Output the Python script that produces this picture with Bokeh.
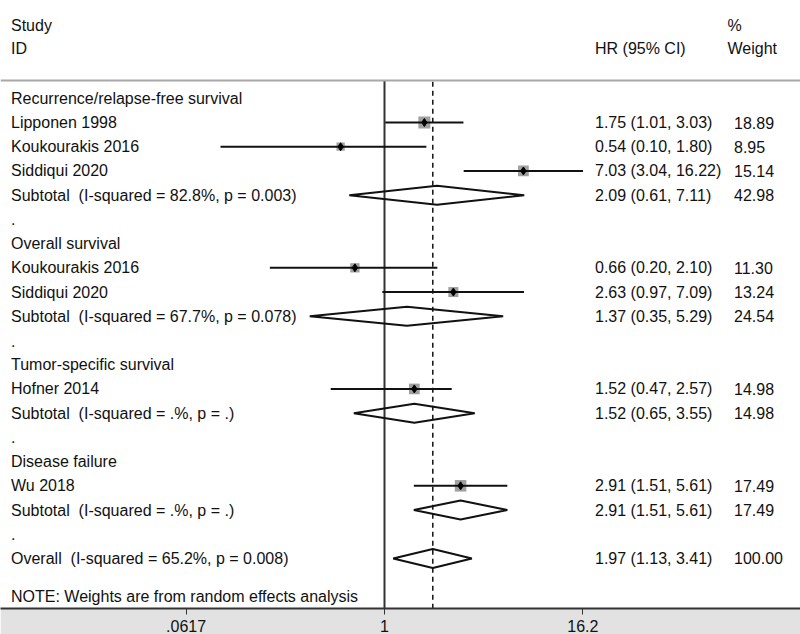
import numpy as np
from bokeh.plotting import figure
from bokeh.models import ColumnDataSource, Range1d, FixedTicker, Span
from bokeh.core.properties import value
from bokeh.embed import file_html
from bokeh.resources import INLINE

# ---------------- data ----------------
group_names = ["Recurrence/relapse-free survival", "Overall survival",
               "Tumor-specific survival", "Disease failure"]
group_rows = [0, 6, 11, 15]

study_names = ["Lipponen 1998", "Koukourakis 2016", "Siddiqui 2020",
               "Koukourakis 2016", "Siddiqui 2020", "Hofner 2014", "Wu 2018"]
study_hr = [1.75, 0.54, 7.03, 0.66, 2.63, 1.52, 2.91]
study_lo = [1.01, 0.10, 3.04, 0.20, 0.97, 0.47, 1.51]
study_hi = [3.03, 1.80, 16.22, 2.10, 7.09, 2.57, 5.61]
study_wt = [18.89, 8.95, 15.14, 11.30, 13.24, 14.98, 17.49]
study_rows = [1, 2, 3, 7, 8, 12, 16]

pooled_names = ["Subtotal \u00a0(I-squared = 82.8%, p = 0.003)",
                "Subtotal \u00a0(I-squared = 67.7%, p = 0.078)",
                "Subtotal \u00a0(I-squared = .%, p = .)",
                "Subtotal \u00a0(I-squared = .%, p = .)",
                "Overall \u00a0(I-squared = 65.2%, p = 0.008)"]
pooled_hr = [2.09, 1.37, 1.52, 2.91, 1.97]
pooled_lo = [0.61, 0.35, 0.65, 1.51, 1.13]
pooled_hi = [7.11, 5.29, 3.55, 5.61, 3.41]
pooled_wt = [42.98, 24.54, 14.98, 17.49, 100.00]
pooled_rows = [4, 9, 13, 17, 19]

spacer_rows = [5, 10, 14, 18]
note_text = "NOTE: Weights are from random effects analysis"
note_row = 20.55

tick_values = [0.0617, 1.0, 16.2]
tick_labels = [".0617", "1", "16.2"]
overall_hr = 1.97

# ---------------- layout ----------------
FONT = value("Liberation Sans")
FS = "16px"
TXT = "#111111"
ROW0_PX, ROW_PX = 97.8, 24.22          # image pixel of row 0, pixel per row
NULL_PX, DEC_PX = 384.0, 164.0         # image pixel of HR=1, pixel per decade
AXIS_H = 26                            # height of the x axis panel
W, H = 800, 634


def px_to_x(px):
    return (px - NULL_PX) / DEC_PX


def px_to_row(py):
    return (py - ROW0_PX) / ROW_PX


x_left, x_hr, x_wt_head, x_wt = px_to_x(10.5), px_to_x(594.5), px_to_x(727), px_to_x(733.5)
sep_row = px_to_row(80)
bottom_row = px_to_row(H - AXIS_H)

p = figure(width=W, height=H, output_backend="svg", toolbar_location=None,
           x_range=Range1d(px_to_x(0), px_to_x(W)),
           y_range=Range1d(bottom_row, px_to_row(0)),
           y_axis_location=None, min_border=0, outline_line_color=None,
           background_fill_color="white", border_fill_color="#e2e2e2")
p.grid.visible = False

# header separator
p.add_layout(Span(location=sep_row, dimension="width", line_color="#a8a8a8", line_width=2))

# null line
p.segment(x0=[0.0], y0=[sep_row], x1=[0.0], y1=[bottom_row + 1], line_color="#333333", line_width=2)
# overall effect dashed line
lo_ov = np.log10(overall_hr)
p.segment(x0=[lo_ov], y0=[sep_row + 0.05], x1=[lo_ov], y1=[bottom_row + 1],
          line_color="#111111", line_width=1.5, line_dash="5 4")

# study CIs, boxes and points
sd = ColumnDataSource(dict(
    x=np.log10(study_hr), lo=np.log10(study_lo), hi=np.log10(study_hi),
    y=study_rows, size=2.76 * np.sqrt(study_wt)))
p.scatter(x="x", y="y", size="size", marker="square", source=sd,
          fill_color="#a0a0a0", line_color=None)
p.segment(x0="lo", y0="y", x1="hi", y1="y", source=sd, line_color="#111111", line_width=2)
p.scatter(x="x", y="y", size=8, marker="diamond", source=sd,
          fill_color="#000000", line_color="#000000")

# pooled diamonds
hh = 9.5 / ROW_PX
xs, ys = [], []
for e, l, h, r in zip(pooled_hr, pooled_lo, pooled_hi, pooled_rows):
    xs.append([np.log10(l), np.log10(e), np.log10(h), np.log10(e)])
    ys.append([r, r - hh, r, r + hh])
p.patches(xs=xs, ys=ys, fill_alpha=0, line_color="#111111", line_width=2)

# texts
def txt(xv, rows, texts):
    p.text(x=[xv] * len(rows), y=rows, text=texts, text_font=FONT, text_font_size=FS,
           text_baseline="middle", text_align="left", text_color=TXT)

txt(x_left, [-3.0, -2.05], ["Study", "ID"])
txt(x_hr, [-2.05], ["HR (95% CI)"])
txt(x_wt_head, [-3.0, -2.05], ["%", "Weight"])
txt(x_left, group_rows, group_names)
txt(x_left, study_rows, study_names)
txt(x_left, pooled_rows, pooled_names)
txt(x_left, spacer_rows, ["."] * len(spacer_rows))
txt(x_left, [note_row], [note_text])
txt(x_hr, study_rows, [f"{e:.2f} ({l:.2f}, {h:.2f})" for e, l, h in zip(study_hr, study_lo, study_hi)])
txt(x_hr, pooled_rows, [f"{e:.2f} ({l:.2f}, {h:.2f})" for e, l, h in zip(pooled_hr, pooled_lo, pooled_hi)])
txt(x_wt, study_rows, [f"{w:.2f}" for w in study_wt])
txt(x_wt, pooled_rows, [f"{w:.2f}" for w in pooled_wt])

# x axis
ax = p.xaxis[0]
ax.ticker = FixedTicker(ticks=list(np.log10(tick_values)))
ax.major_label_overrides = {float(np.log10(v)): s for v, s in zip(tick_values, tick_labels)}
ax.axis_line_color = "#333333"
ax.axis_line_width = 2
ax.major_tick_line_color = "#333333"
ax.major_tick_in = 0
ax.major_tick_out = 6
ax.minor_tick_line_color = None
ax.major_label_standoff = 5
ax.major_label_text_font = "Liberation Sans"
ax.major_label_text_font_size = "16px"
ax.major_label_text_color = TXT

open("out.html", "w").write(file_html(p, INLINE))
